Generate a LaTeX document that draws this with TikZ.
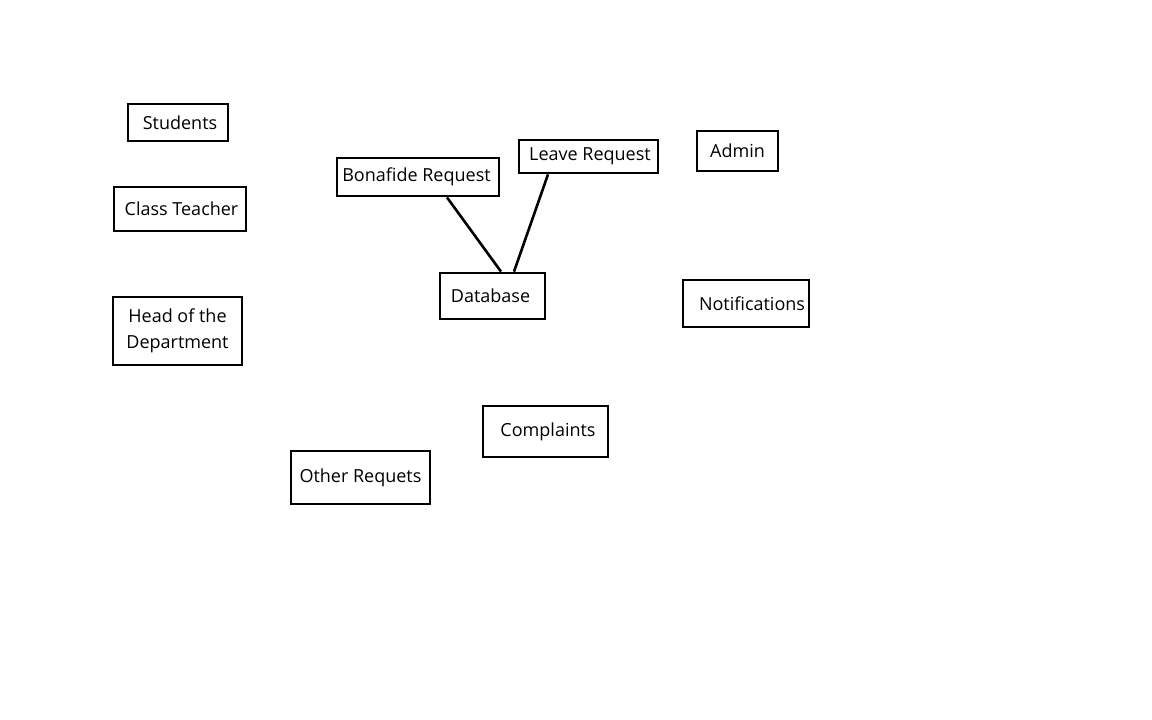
\documentclass[tikz,border=0pt]{standalone}
\usepackage{fontspec}
\setmainfont{Open Sans}
\begin{document}
\begin{tikzpicture}[x=1pt,y=-1pt,
  box/.style={draw=black,line width=2.8pt,inner sep=0pt,font=\fontsize{18}{26}\selectfont,align=center},
  link/.style={draw=black,line width=2.6pt}]
\useasboundingbox (0,0) rectangle (1152,720);
\node[box,minimum width=100,minimum height=37] (stu) at (178,122.5) {\hspace*{4pt}Students};
\node[box,minimum width=132,minimum height=44] (ct) at (180,209) {\hspace*{3pt}Class Teacher};
\node[box,minimum width=129,minimum height=68] (hod) at (177.5,331) {Head of the\\Department};
\node[box,minimum width=162,minimum height=38] (bon) at (418,177) {Bonafide Request\hspace*{3pt}};
\node[box,minimum width=139,minimum height=33] (leave) at (588.5,156.5) {\hspace*{3pt}Leave Request};
\node[box,minimum width=81,minimum height=40] (adm) at (737.5,151) {Admin};
\node[box,minimum width=105,minimum height=46] (db) at (492.5,296) {Database\hspace*{4pt}};
\node[box,minimum width=126,minimum height=47] (notif) at (746,303.5) {\hspace*{12pt}Notifications};
\node[box,minimum width=125,minimum height=51] (comp) at (545.5,431.5) {\hspace*{5pt}Complaints};
\node[box,minimum width=139,minimum height=53] (oth) at (360.5,477.5) {Other Requets};
\draw[link] ([xshift=29]bon.south) -- ([xshift=8.5]db.north);
\draw[link] ([xshift=-40.5]leave.south) -- ([xshift=21.5]db.north);
\end{tikzpicture}
\end{document}
